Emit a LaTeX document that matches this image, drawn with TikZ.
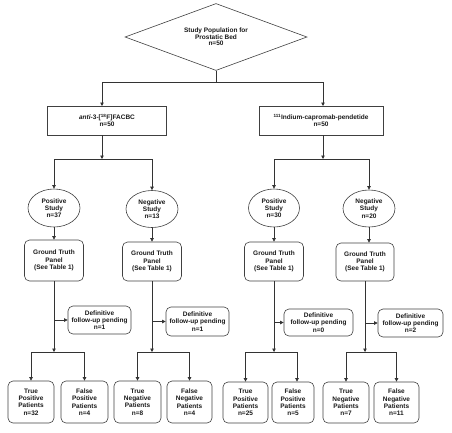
\documentclass[tikz,border=0pt]{standalone}
\usepackage{fontspec}
\setmainfont{Liberation Sans}
\usetikzlibrary{shapes.geometric,arrows.meta}
\begin{document}
\begin{tikzpicture}[x=1pt,y=-1pt,
  txt/.style={font=\bfseries\fontsize{6.5}{7.3}\selectfont, align=center, text=black!90},
  box/.style={txt, draw=black!75, line width=0.6pt, rectangle, inner sep=0pt},
  rbox/.style={box, rounded corners=5pt},
  ell/.style={box, ellipse},
  dia/.style={box, diamond, aspect=2.7, font=\bfseries\fontsize{6.5}{6.4}\selectfont},
  ln/.style={line width=0.6pt, draw=black!80},
  arr/.style={ln, -{Triangle[length=3.5pt,width=3.4pt]}}]
\useasboundingbox (0,0) rectangle (452,432);

% top
\node[dia, minimum width=182pt, minimum height=67pt] (pop) at (216,37) {Study Population for\\Prostatic Bed\\n=50};
\node[box, minimum width=119pt, minimum height=29pt] (anti) at (107,120.5) {\textit{anti}-3-[\textsuperscript{18}F]FACBC\\n=50};
\node[box, minimum width=124pt, minimum height=29pt] (ind) at (321,120.5) {\textsuperscript{111}Indium-capromab-pendetide\\n=50};

% studies
\node[ell, minimum width=52pt, minimum height=38pt] (pos1) at (54,208) {Positive\\Study\\n=37};
\node[ell, minimum width=52pt, minimum height=37pt] (neg1) at (152,209) {Negative\\Study\\n=13};
\node[ell, minimum width=51pt, minimum height=38pt] (pos2) at (274,208) {Positive\\Study\\n=30};
\node[ell, minimum width=52pt, minimum height=37pt] (neg2) at (369,208.5) {Negative\\Study\\n=20};

% ground truth
\node[rbox, minimum width=59pt, minimum height=41pt] (gt1) at (54,260.5) {Ground Truth\\Panel\\(See Table 1)};
\node[rbox, minimum width=59pt, minimum height=39pt] (gt2) at (152,261.5) {Ground Truth\\Panel\\(See Table 1)};
\node[rbox, minimum width=59pt, minimum height=39pt] (gt3) at (274,261.5) {Ground Truth\\Panel\\(See Table 1)};
\node[rbox, minimum width=58pt, minimum height=38pt] (gt4) at (365,262) {Ground Truth\\Panel\\(See Table 1)};

% pending
\node[rbox, minimum width=63pt, minimum height=28pt] (def1) at (99.5,320) {Definitive\\follow-up pending\\n=1};
\node[rbox, minimum width=63pt, minimum height=29pt] (def2) at (197.5,321.5) {Definitive\\follow-up pending\\n=1};
\node[rbox, minimum width=69pt, minimum height=27pt] (def3) at (318.5,322.5) {Definitive\\follow-up pending\\n=0};
\node[rbox, minimum width=65pt, minimum height=28pt] (def4) at (410.5,323) {Definitive\\follow-up pending\\n=2};

% outcomes
\node[rbox, minimum width=46pt, minimum height=42pt] (tp1) at (31,402) {True\\Positive\\Patients\\n=32};
\node[rbox, minimum width=47pt, minimum height=42pt] (fp1) at (84.5,402) {False\\Positive\\Patients\\n=4};
\node[rbox, minimum width=47pt, minimum height=42pt] (tn1) at (137.5,402) {True\\Negative\\Patients\\n=8};
\node[rbox, minimum width=45pt, minimum height=42pt] (fn1) at (189.5,402) {False\\Negative\\Patients\\n=4};
\node[rbox, minimum width=45pt, minimum height=41pt] (tp2) at (245.5,402.5) {True\\Positive\\Patients\\n=25};
\node[rbox, minimum width=42pt, minimum height=41pt] (fp2) at (293,402.5) {False\\Positive\\Patients\\n=5};
\node[rbox, minimum width=46pt, minimum height=41pt] (tn2) at (346,402.5) {True\\Negative\\Patients\\n=7};
\node[rbox, minimum width=45pt, minimum height=41pt] (fn2) at (396.5,402.5) {False\\Negative\\Patients\\n=11};

% connectors top
\coordinate (s0) at (216,82);
\coordinate (aT) at (102,106);
\coordinate (bT) at (323,106);
\draw[ln] (pop.south) -- (s0);
\draw[arr] (s0) -| (aT);
\draw[arr] (s0) -| (bT);

\coordinate (aB) at (102,135);
\coordinate (aS) at (102,159);
\coordinate (bB) at (323,135);
\coordinate (bS) at (323,159);
\draw[arr] (aB) -- (aS);
\draw[arr] (bB) -- (bS);
\draw[arr] (aS) -| (pos1.north);
\draw[arr] (aS) -| (neg1.north);
\draw[arr] (bS) -| (pos2.north);
\draw[arr] (bS) -| (neg2.north);

\draw[arr] (pos1.south) -- (gt1.north);
\draw[arr] (neg1.south) -- (gt2.north);
\draw[arr] (pos2.south) -- (gt3.north);
\draw[arr] (neg2.south) -- (neg2.south |- gt4.north);

% lower
\coordinate (j1) at (54,352);
\coordinate (j2) at (152,352);
\coordinate (j3) at (274,352);
\coordinate (j4) at (365,352);
\draw[arr] (gt1.south) -- (j1);
\draw[arr] (gt2.south) -- (j2);
\draw[arr] (gt3.south) -- (j3);
\draw[arr] (gt4.south) -- (j4);
\draw[arr] (gt1.south |- def1.west) -- (def1.west);
\draw[arr] (gt2.south |- def2.west) -- (def2.west);
\draw[arr] (gt3.south |- def3.west) -- (def3.west);
\draw[arr] (gt4.south |- def4.west) -- (def4.west);

\draw[arr] (j1) -| (tp1.north);
\draw[arr] (j1) -| (fp1.north);
\draw[arr] (j2) -| (tn1.north);
\draw[arr] (j2) -| (fn1.north);
\draw[arr] (j3) -| (tp2.north);
\draw[arr] (j3) -| ([xshift=4pt]fp2.north);
\draw[arr] (j4) -| (tn2.north);
\draw[arr] (j4) -| (fn2.north);
\end{tikzpicture}
\end{document}
